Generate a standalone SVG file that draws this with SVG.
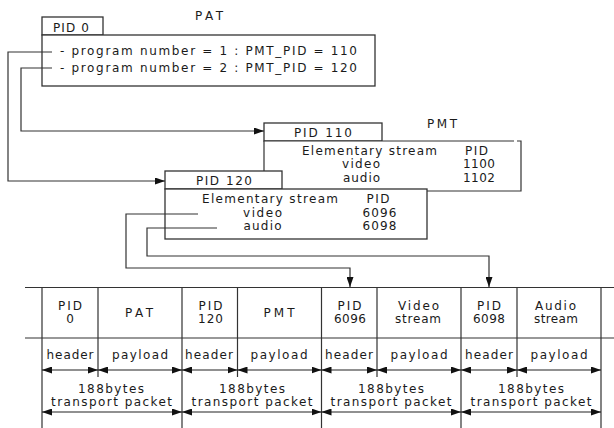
<svg xmlns="http://www.w3.org/2000/svg" width="614" height="428" viewBox="0 0 614 428">
<style>
.t{font-family:"DejaVu Sans","Liberation Sans",sans-serif;font-size:12px;fill:#1a1a1a}
.m{text-anchor:middle}
.box{fill:#fff;stroke:#333;stroke-width:1.3}
.ln{fill:none;stroke:#333;stroke-width:1.2}
.tl{fill:none;stroke:#333;stroke-width:1.2}
.da{fill:none;stroke:#222;stroke-width:1.2;marker-start:url(#ah);marker-end:url(#ah)}
.ar{fill:none;stroke:#333;stroke-width:1.2;marker-end:url(#ah)}
</style>
<defs>
<marker id="ah" viewBox="0 0 10 7" refX="10" refY="3.5" markerWidth="10" markerHeight="7" markerUnits="userSpaceOnUse" orient="auto-start-reverse">
<path d="M0,0 L10,3.5 L0,7 z" fill="#111"/>
</marker>
</defs>
<rect width="614" height="428" fill="#fff"/>

<g id="pat">
<text class="t m" x="209" y="20" textLength="28" lengthAdjust="spacing">PAT</text>
<rect class="box" x="42" y="17" width="61" height="18"/>
<text class="t m" x="71" y="32" textLength="36" lengthAdjust="spacing">PID 0</text>
<rect class="box" x="42" y="35" width="333" height="51"/>
<text class="t" x="60" y="55" textLength="297" lengthAdjust="spacing">- program number = 1 : PMT_PID = 110</text>
<text class="t" x="60" y="71.5" textLength="297" lengthAdjust="spacing">- program number = 2 : PMT_PID = 120</text>
</g>

<g id="pmt110">
<text class="t m" x="442" y="128" textLength="30" lengthAdjust="spacing">PMT</text>
<rect class="box" x="264" y="123" width="118" height="18"/>
<text class="t m" x="323" y="137" textLength="58" lengthAdjust="spacing">PID 110</text>
<rect x="264" y="141" width="257" height="50" fill="#fff"/>
<path class="tl" d="M264,191 V141 H514 M517,141 H521 V191 H264"/>
<text class="t m" x="369.5" y="155" textLength="135" lengthAdjust="spacing">Elementary stream</text>
<text class="t m" x="476.5" y="155" textLength="23" lengthAdjust="spacing">PID</text>
<text class="t m" x="361" y="168" textLength="38" lengthAdjust="spacing">video</text>
<text class="t m" x="479" y="168" textLength="32" lengthAdjust="spacing">1100</text>
<text class="t m" x="361.5" y="182" textLength="37" lengthAdjust="spacing">audio</text>
<text class="t m" x="479" y="182" textLength="32" lengthAdjust="spacing">1102</text>
</g>

<g id="pmt120">
<rect class="box" x="165" y="171" width="117" height="18"/>
<text class="t m" x="224" y="185" textLength="56" lengthAdjust="spacing">PID 120</text>
<rect class="box" x="165" y="189" width="262" height="50"/>
<text class="t m" x="270" y="203" textLength="136" lengthAdjust="spacing">Elementary stream</text>
<text class="t m" x="378" y="203" textLength="23" lengthAdjust="spacing">PID</text>
<text class="t m" x="262.5" y="217" textLength="39" lengthAdjust="spacing">video</text>
<text class="t m" x="379.5" y="217" textLength="34" lengthAdjust="spacing">6096</text>
<text class="t m" x="262.5" y="230" textLength="38" lengthAdjust="spacing">audio</text>
<text class="t m" x="379.5" y="230" textLength="34" lengthAdjust="spacing">6098</text>
</g>

<g id="connectors">
<polyline class="ar" points="52,52 8,52 8,181 165,181"/>
<polyline class="ar" points="52,68 21,68 21,131 264,131"/>
<polyline class="ar" points="198,214 126,214 126,268 350,268 350,287"/>
<polyline class="ar" points="217,228 147,228 147,256 489,256 489,287"/>
</g>

<g id="packets">
<path class="tl" d="M25,287.5 H614 M25,338 H614 M42,287 V428 M182,287 V428 M321.5,287 V428 M461,287 V428 M601,287 V428 M98,287 V377 M237.5,287 V377 M377,287 V377 M517,287 V377"/>

<g id="packet1">
<text class="t m" x="70" y="310" textLength="24" lengthAdjust="spacing">PID</text>
<text class="t m" x="70" y="323">0</text>
<text class="t m" x="139" y="316.5" textLength="28" lengthAdjust="spacing">PAT</text>
<text class="t m" x="70" y="359" textLength="47" lengthAdjust="spacing">header</text>
<text class="t m" x="140" y="359" textLength="56" lengthAdjust="spacing">payload</text>
<line class="da" x1="42" y1="370" x2="98" y2="370"/>
<line class="da" x1="98" y1="370" x2="182" y2="370"/>
<text class="t m" x="111" y="393" textLength="66" lengthAdjust="spacing">188bytes</text>
<text class="t m" x="111.5" y="406" textLength="121" lengthAdjust="spacing">transport packet</text>
<line class="da" x1="42" y1="412" x2="182" y2="412"/>
</g>

<g id="packet2">
<text class="t m" x="210.5" y="310" textLength="24" lengthAdjust="spacing">PID</text>
<text class="t m" x="210.5" y="323" textLength="25" lengthAdjust="spacing">120</text>
<text class="t m" x="279" y="316.5" textLength="31" lengthAdjust="spacing">PMT</text>
<text class="t m" x="209" y="359" textLength="48" lengthAdjust="spacing">header</text>
<text class="t m" x="279" y="359" textLength="57" lengthAdjust="spacing">payload</text>
<line class="da" x1="182" y1="370" x2="237.5" y2="370"/>
<line class="da" x1="237.5" y1="370" x2="321.5" y2="370"/>
<text class="t m" x="252" y="393" textLength="66" lengthAdjust="spacing">188bytes</text>
<text class="t m" x="252" y="406" textLength="121" lengthAdjust="spacing">transport packet</text>
<line class="da" x1="182" y1="412" x2="321.5" y2="412"/>
</g>

<g id="packet3">
<text class="t m" x="349.5" y="310" textLength="24" lengthAdjust="spacing">PID</text>
<text class="t m" x="350" y="323" textLength="32" lengthAdjust="spacing">6096</text>
<text class="t m" x="418.5" y="310" textLength="41" lengthAdjust="spacing">Video</text>
<text class="t m" x="418" y="323" textLength="46" lengthAdjust="spacing">stream</text>
<text class="t m" x="349" y="359" textLength="48" lengthAdjust="spacing">header</text>
<text class="t m" x="419" y="359" textLength="57" lengthAdjust="spacing">payload</text>
<line class="da" x1="321.5" y1="370" x2="377" y2="370"/>
<line class="da" x1="377" y1="370" x2="461" y2="370"/>
<text class="t m" x="391" y="393" textLength="66" lengthAdjust="spacing">188bytes</text>
<text class="t m" x="391" y="406" textLength="121" lengthAdjust="spacing">transport packet</text>
<line class="da" x1="321.5" y1="412" x2="461" y2="412"/>
</g>

<g id="packet4">
<text class="t m" x="489" y="310" textLength="24" lengthAdjust="spacing">PID</text>
<text class="t m" x="489" y="323" textLength="32" lengthAdjust="spacing">6098</text>
<text class="t m" x="555.5" y="310" textLength="41" lengthAdjust="spacing">Audio</text>
<text class="t m" x="556" y="323" textLength="44" lengthAdjust="spacing">stream</text>
<text class="t m" x="489" y="359" textLength="48" lengthAdjust="spacing">header</text>
<text class="t m" x="559" y="359" textLength="57" lengthAdjust="spacing">payload</text>
<line class="da" x1="461" y1="370" x2="517" y2="370"/>
<line class="da" x1="517" y1="370" x2="601" y2="370"/>
<text class="t m" x="531" y="393" textLength="66" lengthAdjust="spacing">188bytes</text>
<text class="t m" x="531" y="406" textLength="121" lengthAdjust="spacing">transport packet</text>
<line class="da" x1="461" y1="412" x2="601" y2="412"/>
</g>
</g>
</svg>
